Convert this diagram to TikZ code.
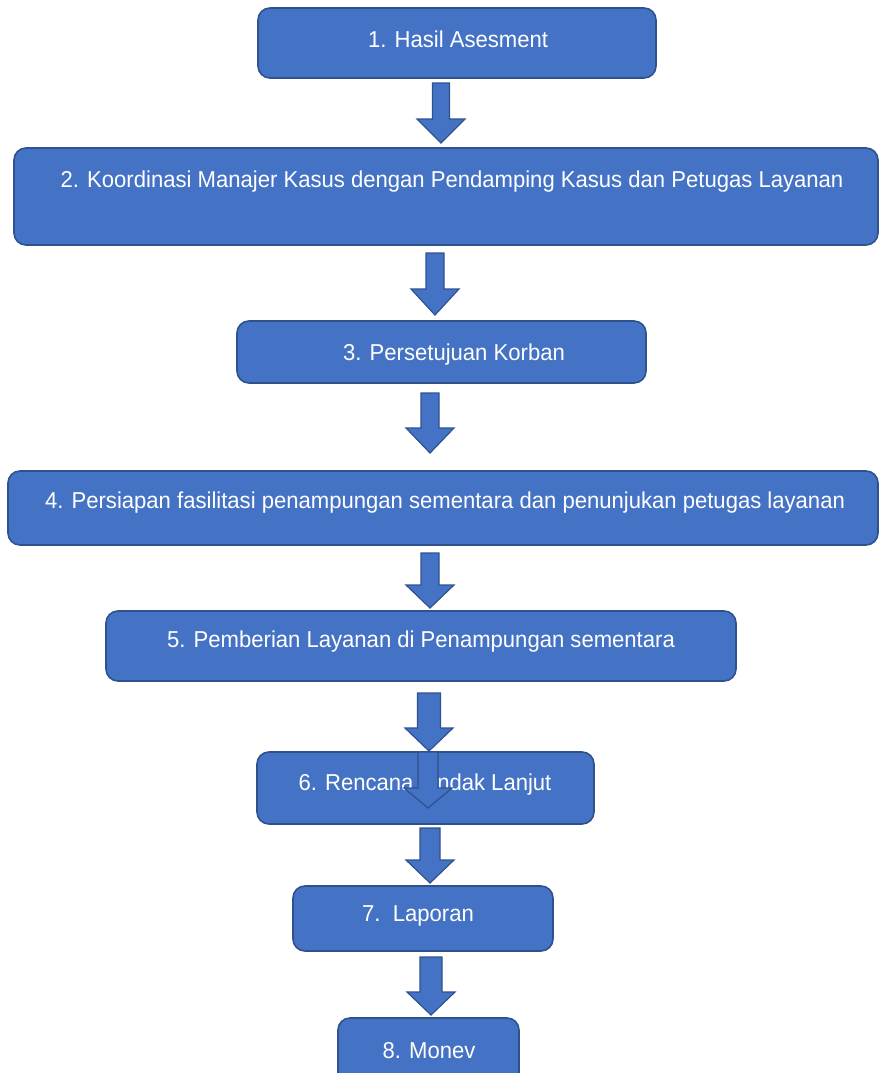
\documentclass[tikz,border=0pt]{standalone}
\usepackage{fontspec}
\setmainfont{Liberation Sans}[FakeStretch=0.96]
\definecolor{boxfill}{HTML}{4472C4}
\definecolor{boxline}{HTML}{2F528F}
\tikzset{
  flowbox/.style={draw=boxline, fill=boxfill, line width=1.6pt, rounded corners=12pt},
  flowtext/.style={text=white, font=\fontsize{23}{27}\selectfont, inner sep=0pt, anchor=base},
  blockarrow/.style={draw=boxline, fill=boxfill, line width=1.2pt, line join=miter}
}
\newcommand{\blkarrow}[5]{% cx, top, base, tip, halfshaft
  \path[blockarrow] (#1-#5,#2) -- (#1+#5,#2) -- (#1+#5,#3) -- (#1+24,#3) -- (#1,#4) -- (#1-24,#3) -- (#1-#5,#3) -- cycle;
}
\begin{document}
\begin{tikzpicture}[x=1pt,y=-1pt]
\useasboundingbox (0,0) rectangle (880,1073);
% boxes
\path[flowbox] (258,8) rectangle (656,78) coordinate (b1);
\path[flowbox] (14,148) rectangle (878,245) coordinate (b2);
\path[flowbox] (237,321) rectangle (646,383) coordinate (b3);
\path[flowbox] (8,471) rectangle (878,545) coordinate (b4);
\path[flowbox] (106,611) rectangle (736,681) coordinate (b5);
\path[flowbox] (257,752) rectangle (594,824) coordinate (b6);
\path[flowbox] (293,886) rectangle (553,951) coordinate (b7);
\path[flowbox] (338,1018) rectangle (519,1090) coordinate (b8);
% texts
\node[flowtext] (t1) at (458,48) {1. Hasil Asesment};
\node[flowtext] (t2) at (452,187) {2. Koordinasi Manajer Kasus dengan Pendamping Kasus dan Petugas Layanan};
\node[flowtext] (t3) at (454,360) {3. Persetujuan Korban};
\node[flowtext] (t4) at (445,508) {4. Persiapan fasilitasi penampungan sementara dan penunjukan petugas layanan};
\node[flowtext] (t5) at (421,647) {5. Pemberian Layanan di Penampungan sementara};
\node[flowtext] (t6) at (425,790) {6. Rencana Tindak Lanjut};
\node[flowtext] (t7) at (418,921) {7.\ \ Laporan};
\node[flowtext] (t8) at (429,1058) {8. Monev};
% arrows
\blkarrow{441}{83}{119}{143}{8.5}
\blkarrow{435}{253}{289}{315}{9}
\blkarrow{430}{393}{428}{453}{9}
\blkarrow{430}{553}{585}{608}{9}
\blkarrow{429}{693}{728}{751}{11.5}
\blkarrow{428}{752}{788}{808}{10}
\blkarrow{430}{828}{860}{883}{10}
\blkarrow{431}{957}{992}{1015}{11}
\end{tikzpicture}
\end{document}
